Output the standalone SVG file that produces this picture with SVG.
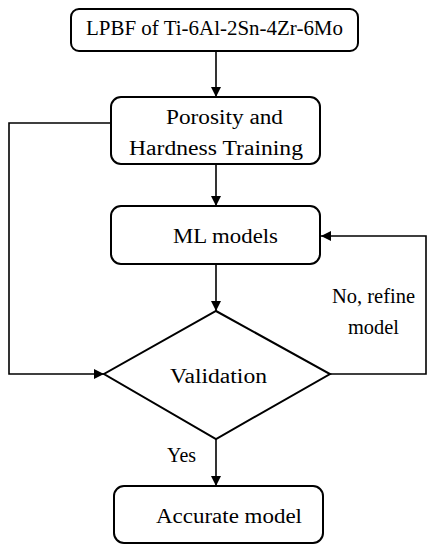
<svg xmlns="http://www.w3.org/2000/svg" width="435" height="550" viewBox="0 0 435 550">
<style>
.box{fill:#fff;stroke:#000;stroke-width:2}
.ln{fill:none;stroke:#000;stroke-width:1.6}
.t{font-family:'Liberation Serif','DejaVu Serif',serif;font-size:20px;fill:#000}
</style>
<defs>
<marker id="ah" viewBox="0 0 10 10" refX="10" refY="5" markerWidth="10" markerHeight="10" markerUnits="userSpaceOnUse" orient="auto">
<path d="M0,0 L10,5 L0,10 Z" fill="#000"/>
</marker>
</defs>
<rect width="435" height="550" fill="#fff"/>
<g id="connectors">
<line class="ln" x1="216" y1="51" x2="216" y2="97" marker-end="url(#ah)"/>
<line class="ln" x1="216" y1="164" x2="216" y2="206" marker-end="url(#ah)"/>
<line class="ln" x1="216" y1="264" x2="216" y2="311" marker-end="url(#ah)"/>
<line class="ln" x1="216" y1="439" x2="216" y2="486" marker-end="url(#ah)"/>
<polyline class="ln" points="111,123 9,123 9,374 104,374" marker-end="url(#ah)"/>
<polyline class="ln" points="330,374 426,374 426,236 321,236" marker-end="url(#ah)"/>
<text class="t" x="332" y="303" textLength="83" lengthAdjust="spacingAndGlyphs">No, refine</text>
<text class="t" x="348" y="334" textLength="51" lengthAdjust="spacingAndGlyphs">model</text>
<text class="t" x="167" y="462" textLength="29" lengthAdjust="spacingAndGlyphs">Yes</text>
</g>
<g id="lpbf">
<rect class="box" x="71" y="9" width="287" height="42" rx="8"/>
<text class="t" x="86" y="35" textLength="257" lengthAdjust="spacingAndGlyphs">LPBF of Ti-6Al-2Sn-4Zr-6Mo</text>
</g>
<g id="training">
<rect class="box" x="111" y="97" width="209" height="67" rx="10"/>
<text class="t" x="166" y="124" textLength="117" lengthAdjust="spacingAndGlyphs">Porosity and</text>
<text class="t" x="129" y="155" textLength="174" lengthAdjust="spacingAndGlyphs">Hardness Training</text>
</g>
<g id="ml">
<rect class="box" x="111" y="206" width="209" height="58" rx="10"/>
<text class="t" x="173" y="243" textLength="105" lengthAdjust="spacingAndGlyphs">ML models</text>
</g>
<g id="validation">
<polygon class="box" points="216,311 330,374 216,439 104,374"/>
<text class="t" x="170" y="383" textLength="97" lengthAdjust="spacingAndGlyphs">Validation</text>
</g>
<g id="accurate">
<rect class="box" x="114" y="486" width="209" height="57" rx="10"/>
<text class="t" x="156" y="523" textLength="146" lengthAdjust="spacingAndGlyphs">Accurate model</text>
</g>
</svg>
